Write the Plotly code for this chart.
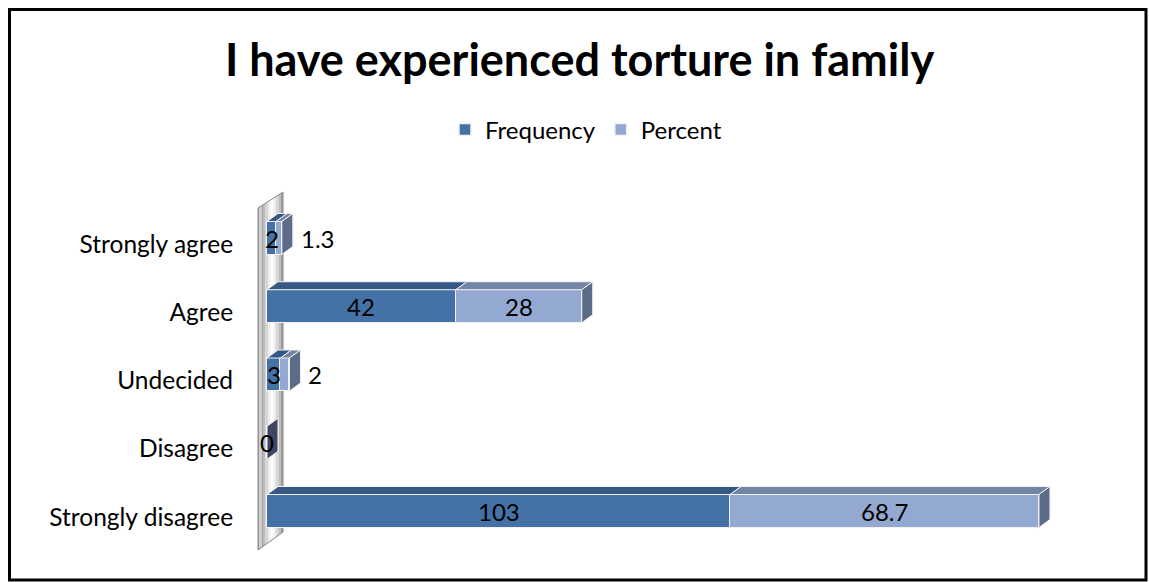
import plotly.graph_objects as go

# ---------------- data ----------------
categories = ["Strongly disagree", "Disagree", "Undecided", "Agree", "Strongly agree"]
frequency = [103, 0, 3, 42, 2]
percent = [68.7, 0, 2, 28, 1.3]
freq_labels = ["103", "0", "3", "42", "2"]
pct_labels = ["68.7", "0", "2", "28", "1.3"]
title_text = "I have experienced torture in family"

# ---------------- layout geometry (pixels) ----------------
W, H = 1149, 582
PL, PR, PT, PB = 255, 1100, 190, 550          # plot area in px
ZERO_PX = 267                                 # px of value 0
PX_PER_UNIT = 4.496
CAT0_PX = 517                                 # px of bottom category label
CAT_STEP = 68.25
FONT = "Lato"

x0 = -(ZERO_PX - PL) / PX_PER_UNIT
x1 = (PR - ZERO_PX) / PX_PER_UNIT
y0 = (CAT0_PX - PB) / CAT_STEP
y1 = (CAT0_PX - PT) / CAT_STEP


def px2x(px):
    return (px - ZERO_PX) / PX_PER_UNIT


def py2y(py):
    return (CAT0_PX - py) / CAT_STEP


def px2paper(px):
    return (px - PL) / (PR - PL)


def py2paper(py):
    return (PB - py) / (PB - PT)


BAR_SHIFT = 6 / CAT_STEP          # front face sits a bit above its label
BAR_W = 33 / CAT_STEP
DX = 11 / PX_PER_UNIT             # 3D depth offset
DY = 8 / CAT_STEP

C_FREQ = "#4472A6"
C_PCT = "#94A9D1"
C_FREQ_TOP = "#365884"
C_PCT_TOP = "#7384A6"
C_SIDE = "#5B6B88"
C_SIDE_ZERO = "#3E4760"

ypos = [i + BAR_SHIFT for i in range(len(categories))]

fig = go.Figure()
fig.add_trace(go.Bar(
    y=ypos, x=frequency, orientation="h", name="Frequency", width=BAR_W,
    marker=dict(color=C_FREQ, line=dict(color="#F2F2F2", width=1.5)),
    hoverinfo="skip"))
fig.add_trace(go.Bar(
    y=ypos, x=percent, orientation="h", name="Percent", width=BAR_W,
    marker=dict(color=C_PCT, line=dict(color="#F2F2F2", width=1.5)),
    hoverinfo="skip"))

shapes = []

# ---- metallic wall behind the bars ----
def wall_path(xl, xr):
    # parallelogram (258,208)-(283,192)-(283,532)-(258,550) in px
    def top(px):
        return 208 + (192 - 208) * (px - 258) / (283 - 258)

    def bot(px):
        return 550 + (532 - 550) * (px - 258) / (283 - 258)
    pts = [(xl, top(xl)), (xr, top(xr)), (xr, bot(xr)), (xl, bot(xl))]
    return "M " + " L ".join(f"{px2x(a)},{py2y(b)}" for a, b in pts) + " Z"


wall_strips = [
    (258, 283, "#9E9E9E"),
    (259, 262, "#D0D0D0"),
    (263, 281, "#BDBDBD"),
    (265, 279, "#D6D6D6"),
    (268, 276, "#ECECEC"),
    (270, 274, "#FAFAFA"),
]
for xl, xr, col in wall_strips:
    shapes.append(dict(type="path", path=wall_path(xl, xr), xref="x", yref="y",
                       fillcolor=col, line=dict(width=0), layer="below"))
shapes.append(dict(type="path", path=wall_path(258, 283), xref="x", yref="y",
                   fillcolor="rgba(0,0,0,0)", line=dict(color="#8A8A8A", width=1),
                   layer="below"))

# ---- 3D top and side faces computed from the data ----
for i, (f, p) in enumerate(zip(frequency, percent)):
    yc = ypos[i]
    yt = yc + BAR_W / 2
    yb = yc - BAR_W / 2
    segs = [(0, f, C_FREQ_TOP), (f, f + p, C_PCT_TOP)]
    for a, b, col in segs:
        if b - a <= 0:
            continue
        shapes.append(dict(
            type="path", xref="x", yref="y", fillcolor=col,
            line=dict(color="#F2F2F2", width=1),
            path=f"M {a},{yt} L {b},{yt} L {b+DX},{yt+DY} L {a+DX},{yt+DY} Z"))
    e = f + p
    side_col = C_SIDE if e > 0 else C_SIDE_ZERO
    shapes.append(dict(
        type="path", xref="x", yref="y", fillcolor=side_col,
        line=dict(color="#F2F2F2", width=1),
        path=f"M {e},{yb} L {e},{yt} L {e+DX},{yt+DY} L {e+DX},{yb+DY} Z"))

# ---- outer frame ----
shapes.append(dict(type="rect", xref="paper", yref="paper",
                   x0=px2paper(9.5), x1=px2paper(1146), y0=py2paper(580), y1=py2paper(9.5),
                   line=dict(color="black", width=3), fillcolor="rgba(0,0,0,0)"))

# ---- data labels ----
annotations = []
LBL_FONT = dict(family=FONT, size=24, color="black")
for i, (f, p) in enumerate(zip(frequency, percent)):
    yc = ypos[i]
    annotations.append(dict(x=f / 2, y=yc, xref="x", yref="y", text=freq_labels[i],
                            showarrow=False, font=LBL_FONT, xanchor="center", yanchor="middle"))
    if f + p == 0:
        continue
    if p >= 5:
        annotations.append(dict(x=f + p / 2, y=yc, xref="x", yref="y", text=pct_labels[i],
                                showarrow=False, font=LBL_FONT, xanchor="center",
                                yanchor="middle"))
    else:
        annotations.append(dict(x=f + p, y=yc, xref="x", yref="y", text=pct_labels[i],
                                showarrow=False, font=LBL_FONT, xanchor="left",
                                yanchor="middle", xshift=17))

fig.update_layout(
    width=W, height=H,
    margin=dict(l=PL, r=W - PR, t=PT, b=H - PB, pad=0),
    paper_bgcolor="white", plot_bgcolor="white",
    barmode="stack", bargap=0,
    title=dict(text=f"<b>{title_text}</b>", x=579.5 / W, xref="container", xanchor="center",
               y=1 - 60 / H, yref="container", yanchor="middle",
               font=dict(family=FONT, size=45, color="black")),
    legend=dict(orientation="h", x=px2paper(586), y=py2paper(130), xanchor="center",
                yanchor="middle", font=dict(family=FONT, size=24, color="black"),
                traceorder="normal", bgcolor="rgba(0,0,0,0)"),
    xaxis=dict(range=[x0, x1], visible=False, fixedrange=True),
    yaxis=dict(range=[y0, y1], tickvals=list(range(len(categories))), ticktext=categories,
               showgrid=False, zeroline=False, showline=False, ticks="outside",
               ticklen=16, tickcolor="rgba(0,0,0,0)",
               tickfont=dict(family=FONT, size=24.5, color="black"), fixedrange=True),
    shapes=shapes, annotations=annotations,
    showlegend=True,
)

fig.write_html("out.html")
